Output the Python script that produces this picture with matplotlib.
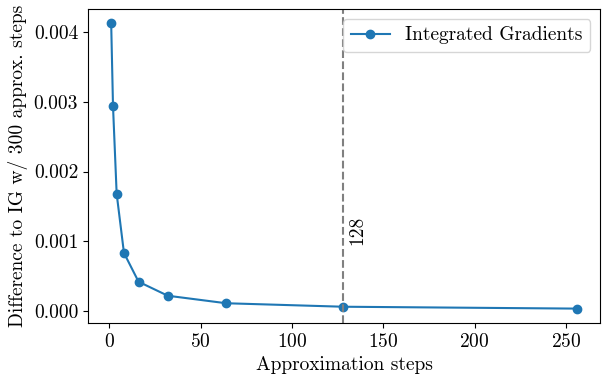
import numpy as np
import matplotlib.pyplot as plt

plt.rcParams['font.family'] = 'serif'
plt.rcParams['font.serif'] = ['cmr10', 'DejaVu Serif']
plt.rcParams['mathtext.fontset'] = 'cm'
plt.rcParams['axes.formatter.use_mathtext'] = True
plt.rcParams['font.size'] = 14

steps = [1, 2, 4, 8, 16, 32, 64, 128, 256]
diff = [0.00413, 0.00294, 0.00168, 0.00083, 0.000416, 0.000215, 0.000107, 0.000057, 0.00003]
chosen = 128

fig, ax = plt.subplots(figsize=(6.02, 3.75), dpi=100)
ax.plot(steps, diff, marker='o', color='#1f77b4', label='Integrated Gradients')
ax.axvline(chosen, color='gray', linestyle='--')
ax.text(chosen + 3, 0.00095, str(chosen), rotation=90, va='bottom', ha='left')
ax.set_yticks(np.arange(0, 0.0041, 0.001))
ax.set_yticklabels(['%.3f' % v for v in np.arange(0, 0.0041, 0.001)])
ax.set_xlabel('Approximation steps')
ax.set_ylabel('Difference to IG w/ 300 approx. steps')
ax.legend(loc='upper right')
fig.subplots_adjust(left=0.146, right=0.997, top=0.976, bottom=0.139)
plt.savefig('out.png')
